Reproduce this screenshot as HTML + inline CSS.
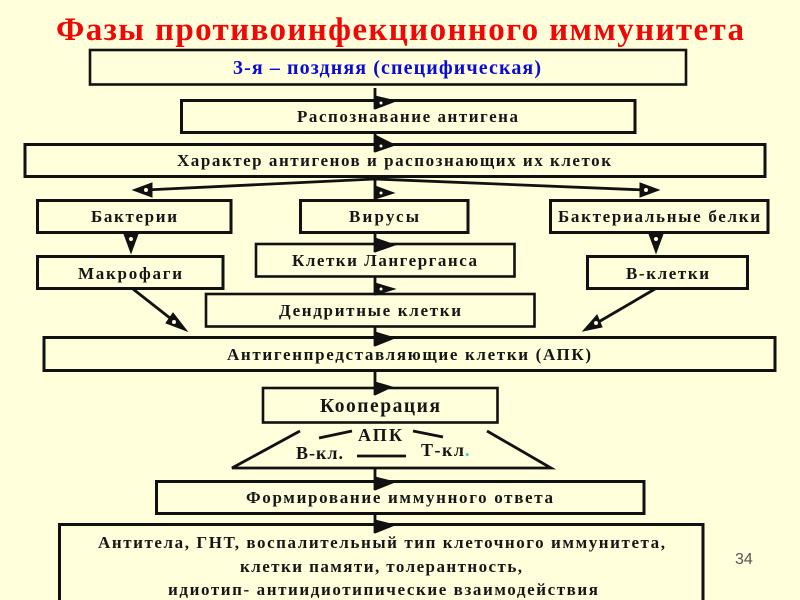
<!DOCTYPE html>
<html><head><meta charset="utf-8"><style>
html,body{margin:0;padding:0;background:#ffffdc;width:800px;height:600px;overflow:hidden}
svg{display:block;filter:blur(0.35px)}
text{font-family:"Liberation Serif","Noto Serif CJK SC",serif;font-weight:bold;fill:#161616;font-size:17px}
rect{fill:#ffffdc;stroke:#111;stroke-width:2.6}
line,.l{stroke:#111;stroke-width:2.8;fill:none}
.h{fill:#111;stroke:#111;stroke-width:1;stroke-linejoin:miter}
</style></head><body>
<svg width="800" height="600" viewBox="0 0 800 600" xmlns="http://www.w3.org/2000/svg">
<rect x="90" y="50" width="596" height="34.500"/>
<rect x="181.500" y="100.500" width="453.500" height="32" style="stroke-width:3"/>
<rect x="25" y="144.500" width="740" height="32" style="stroke-width:3"/>
<rect x="37.500" y="200.500" width="193.500" height="32" style="stroke-width:3"/>
<rect x="300.500" y="200.500" width="167.500" height="32" style="stroke-width:3"/>
<rect x="550.500" y="200.500" width="217.500" height="32" style="stroke-width:3"/>
<rect x="37.500" y="256.500" width="185.500" height="32" style="stroke-width:3"/>
<rect x="256" y="244" width="258.500" height="32.500"/>
<rect x="587.500" y="256.500" width="160" height="32" style="stroke-width:3"/>
<rect x="206" y="294" width="328.500" height="32.500"/>
<rect x="44" y="337.500" width="731" height="33" style="stroke-width:3"/>
<rect x="263" y="388" width="234.500" height="34.500"/>
<rect x="156.500" y="481.500" width="487.500" height="32" style="stroke-width:3"/>
<rect x="59.500" y="524.500" width="643.500" height="90" style="stroke-width:3"/>

<line x1="375" y1="88" x2="375" y2="109"/>
<path class="h" d="M375 96 L396 101 L375 109Z"/>
<line x1="375" y1="133" x2="375" y2="152"/>
<path class="h" d="M375 135 L395 145 L375 152Z"/>
<line x1="375" y1="177" x2="375" y2="199"/>
<path class="h" d="M375 186 L394 193 L375 199Z"/>
<path class="l" d="M375 179 L145 190 M375 179 L645 190"/>
<path class="h" d="M133 190 L152 183 L152 197Z"/>
<path class="h" d="M659 190 L640 183 L640 197Z"/>
<path class="h" d="M124 234 L138 234 L131 253Z"/>
<path class="h" d="M649 234 L663 234 L656 253Z"/>
<line x1="375" y1="233" x2="375" y2="252"/>
<path class="h" d="M375 238 L395 245 L375 252Z"/>
<line x1="375" y1="277" x2="375" y2="295"/>
<path class="h" d="M375 283 L395 289 L375 295Z"/>
<line x1="375" y1="327" x2="375" y2="346"/>
<path class="h" d="M375 332 L395 338 L375 346Z"/>
<line x1="133" y1="289" x2="175" y2="322"/>
<path class="h" d="M173 313 L166 323 L187 331Z"/>
<line x1="655" y1="289" x2="595" y2="324"/>
<path class="h" d="M597 315 L602 327 L583 331Z"/>
<line x1="375" y1="371" x2="375" y2="395"/>
<path class="h" d="M375 382 L392 387 L375 395Z"/>
<path class="l" d="M300 431 L232 468 L551 468 L487 431"/>
<path class="l" d="M319 438 L352 431 M413 431 L443 437 M357 456 L406 456"/>
<line x1="375" y1="468" x2="375" y2="490"/>
<path class="h" d="M375 477 L395 482 L375 490Z"/>
<line x1="375" y1="514" x2="375" y2="533"/>
<path class="h" d="M375 520 L395 525 L375 533Z"/>

<g>
<circle cx="381" cy="103" r="1.500" style="fill:#ffffdc"/><circle cx="381" cy="146" r="1.500" style="fill:#ffffdc"/><circle cx="381" cy="193" r="1.500" style="fill:#ffffdc"/>
<circle cx="146" cy="190" r="2" style="fill:#ffffdc"/><circle cx="646" cy="190" r="2" style="fill:#ffffdc"/>
<circle cx="131" cy="239" r="2" style="fill:#ffffdc"/><circle cx="656" cy="239" r="2" style="fill:#ffffdc"/>
<circle cx="381" cy="289" r="1.500" style="fill:#ffffdc"/><circle cx="174" cy="322" r="2" style="fill:#ffffdc"/><circle cx="596" cy="323" r="2" style="fill:#ffffdc"/>
</g>

<text x="56" y="40" textLength="688" lengthAdjust="spacing" style="font-size:33px;fill:#ee0808">Фазы противоинфекционного иммунитета</text>
<text x="233" y="74" textLength="308" lengthAdjust="spacing" style="font-size:20px;fill:#0a0ad8">3-я – поздняя (специфическая)</text>
<text x="297" y="122" textLength="221" lengthAdjust="spacing">Распознавание антигена</text>
<text x="177" y="166" textLength="434" lengthAdjust="spacing">Характер антигенов и распознающих их клеток</text>
<text x="91" y="222" textLength="86" lengthAdjust="spacing">Бактерии</text>
<text x="349" y="222" textLength="70" lengthAdjust="spacing">Вирусы</text>
<text x="558" y="222" textLength="202" lengthAdjust="spacing">Бактериальные белки</text>
<text x="78" y="279" textLength="104" lengthAdjust="spacing">Макрофаги</text>
<text x="292" y="266" textLength="185" lengthAdjust="spacing">Клетки Лангерганса</text>
<text x="626" y="279" textLength="83" lengthAdjust="spacing">В-клетки</text>
<text x="279" y="316" textLength="182" lengthAdjust="spacing">Дендритные клетки</text>
<text x="227" y="360" textLength="364" lengthAdjust="spacing">Антигенпредставляющие клетки (АПК)</text>
<text x="320" y="412" textLength="120" lengthAdjust="spacing" style="font-size:19.500px">Кооперация</text>
<text x="358" y="441" textLength="44" lengthAdjust="spacing" style="font-size:18px">АПК</text>
<text x="296" y="459" textLength="47" lengthAdjust="spacing" style="font-size:18px">В-кл.</text>
<text x="421" y="456" textLength="43" lengthAdjust="spacing" style="font-size:18px">Т-кл</text>
<text x="465" y="456" style="font-size:18px;fill:#33cccc">.</text>
<text x="246" y="503" textLength="307" lengthAdjust="spacing">Формирование иммунного ответа</text>
<text x="98" y="548" textLength="567" lengthAdjust="spacing">Антитела, ГНТ, воспалительный тип клеточного иммунитета,</text>
<text x="240" y="572" textLength="282" lengthAdjust="spacing">клетки памяти, толерантность,</text>
<text x="168" y="595" textLength="430" lengthAdjust="spacing">идиотип- антиидиотипические взаимодействия</text>
<text x="735" y="564" style="font-family:'Liberation Sans',sans-serif;font-weight:normal;font-size:16px;fill:#555">34</text>
</svg>
</body></html>
